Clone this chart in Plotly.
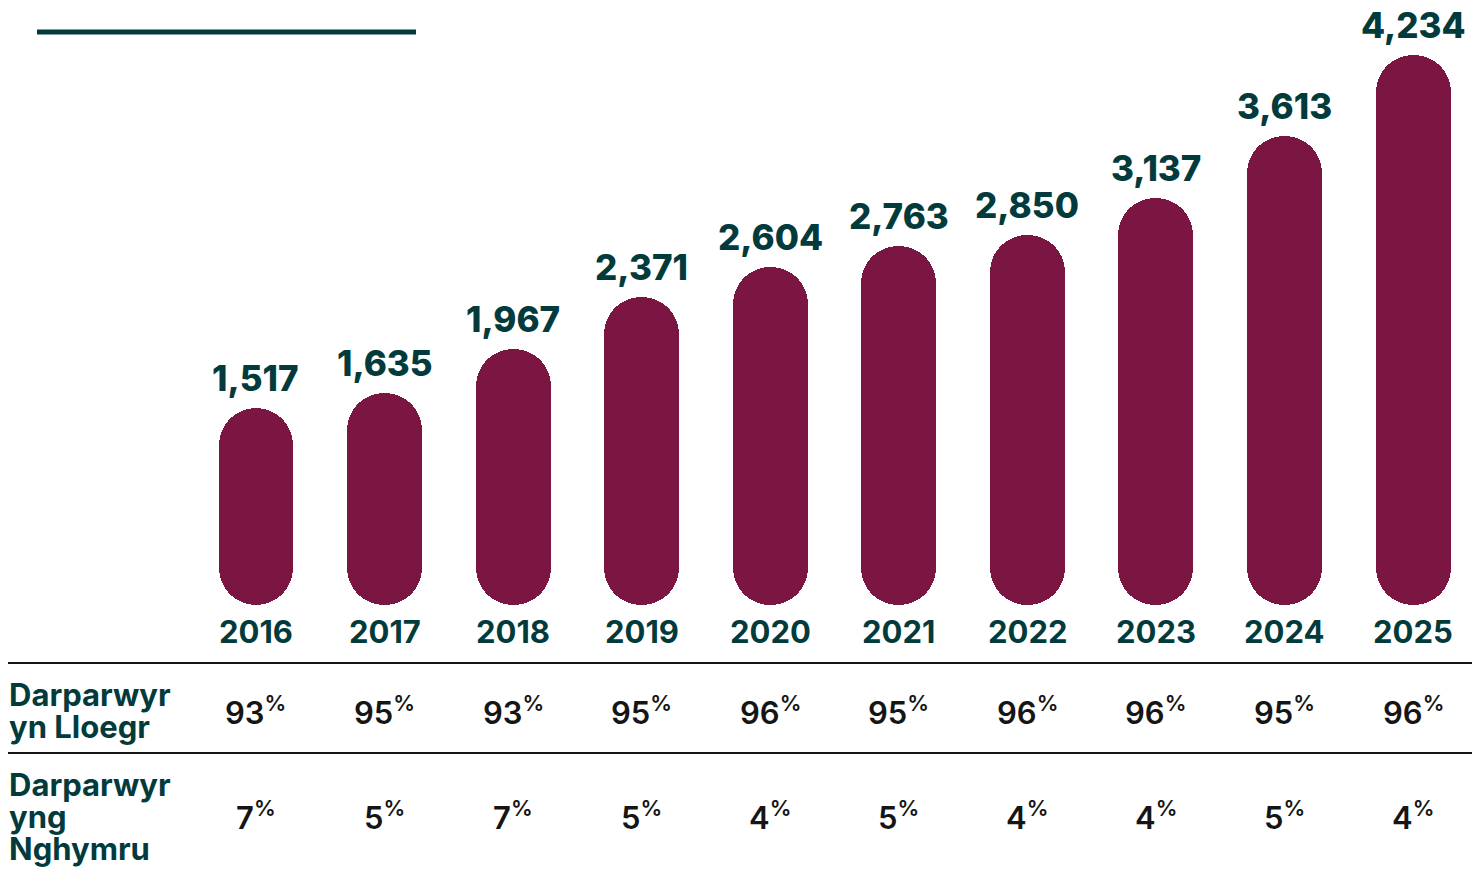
import plotly.graph_objects as go

years = ["2016", "2017", "2018", "2019", "2020", "2021", "2022", "2023", "2024", "2025"]
providers = [1517, 1635, 1967, 2371, 2604, 2763, 2850, 3137, 3613, 4234]
england_pct = [93, 95, 93, 95, 96, 95, 96, 96, 95, 96]
wales_pct = [7, 5, 7, 5, 4, 5, 4, 4, 5, 4]
row_label_england = ["Darparwyr", "yn Lloegr"]
row_label_wales = ["Darparwyr", "yng", "Nghymru"]

BAR = "#7b1542"
TEAL = "#033b3c"
INK = "#151515"
FONT = "Inter"
OFF = 8                      # page body margin
W, H = 1480 - OFF, 874 - OFF


def px_x(p):
    return (p - OFF) / W


def px_y(p):
    return 1 - (p - OFF) / H


xi = list(range(len(years)))

fig = go.Figure()
fig.add_trace(go.Bar(x=xi, y=providers, base=[0] * len(xi), width=0.583,
                     marker=dict(color=BAR, line=dict(width=0), cornerradius="50%"),
                     hoverinfo="skip", showlegend=False))
fig.add_trace(go.Bar(x=xi, y=[-v for v in providers], base=providers, width=0.583,
                     marker=dict(color=BAR, line=dict(width=0), cornerradius="50%"),
                     hoverinfo="skip", showlegend=False))

annotations = []
for i, v in enumerate(providers):
    annotations.append(dict(x=i, y=v, xref="x", yref="y", text=f"{v:,}", showarrow=False,
                            yanchor="middle", yshift=30,
                            font=dict(family=FONT, size=35, color=TEAL, weight=800)))
    annotations.append(dict(x=i, y=px_y(631), xref="x", yref="paper", text=years[i],
                            showarrow=False, yanchor="middle",
                            font=dict(family=FONT, size=31, color=TEAL, weight=700)))
    annotations.append(dict(x=i, y=px_y(710), xref="x", yref="paper",
                            text=f"{england_pct[i]}<sup>%</sup>", showarrow=False, yanchor="middle",
                            font=dict(family=FONT, size=31, color=INK, weight=600)))
    annotations.append(dict(x=i, y=px_y(815), xref="x", yref="paper",
                            text=f"{wales_pct[i]}<sup>%</sup>", showarrow=False, yanchor="middle",
                            font=dict(family=FONT, size=31, color=INK, weight=600)))

for lines, start in ((row_label_england, 694), (row_label_wales, 784)):
    for k, t in enumerate(lines):
        annotations.append(dict(x=px_x(8), y=px_y(start + 32 * k), xref="paper", yref="paper",
                                text=t, showarrow=False, xanchor="left", yanchor="middle",
                                xshift=-1,
                                font=dict(family=FONT, size=31, color=TEAL, weight=700)))

shapes = [
    dict(type="line", xref="paper", yref="paper", x0=px_x(37), x1=px_x(416),
         y0=px_y(32), y1=px_y(32), line=dict(color=TEAL, width=5)),
    dict(type="line", xref="paper", yref="paper", x0=px_x(8), x1=px_x(1475),
         y0=px_y(663), y1=px_y(663), line=dict(color=INK, width=2)),
    dict(type="line", xref="paper", yref="paper", x0=px_x(8), x1=px_x(1475),
         y0=px_y(753), y1=px_y(753), line=dict(color=INK, width=2)),
]

fig.update_layout(
    width=W, height=H, autosize=False,
    margin=dict(l=0, r=0, t=0, b=0),
    paper_bgcolor="white", plot_bgcolor="white",
    barmode="overlay", bargap=0,
    xaxis=dict(range=[-1.929, 9.521], visible=False, fixedrange=True),
    yaxis=dict(range=[-2070.9, 4595.8], visible=False, fixedrange=True),
    annotations=annotations, shapes=shapes,
    font=dict(family=FONT),
)

fig.write_html("out.html")
